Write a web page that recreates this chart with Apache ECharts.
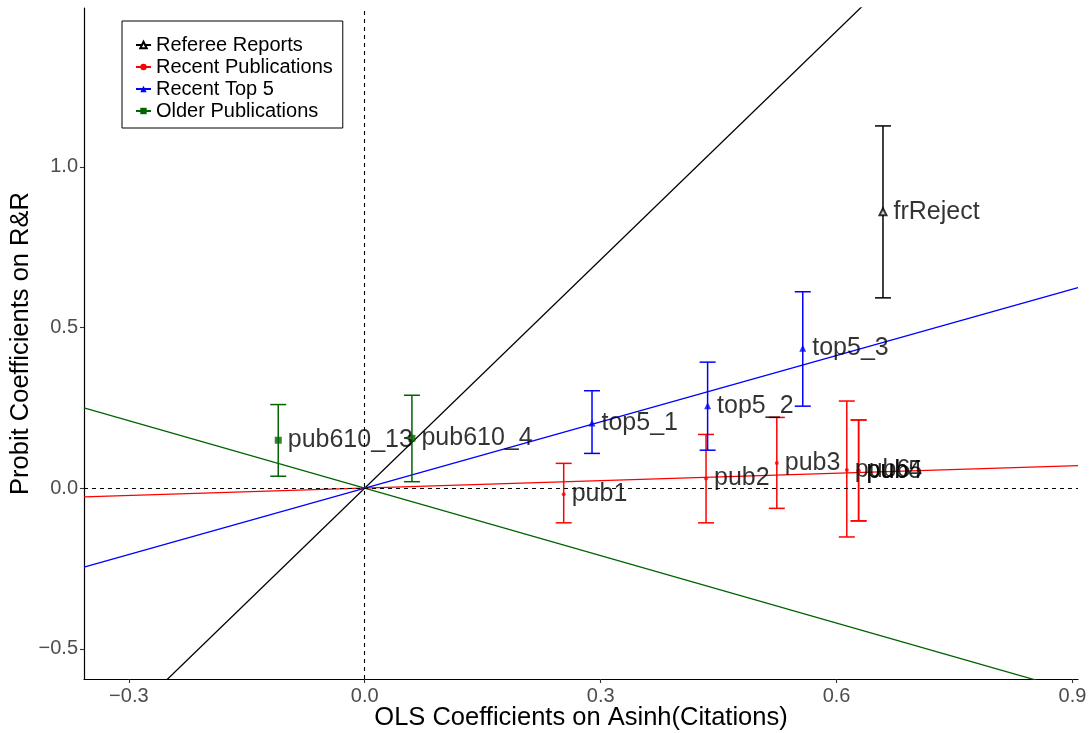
<!DOCTYPE html>
<html>
<head>
<meta charset="utf-8">
<script src="https://cdn.jsdelivr.net/npm/echarts@6/dist/echarts.min.js"></script>
<style>
html,body{margin:0;padding:0;background:#fff;}
#chart{width:1089px;height:733px;}
</style>
</head>
<body>
<div id="chart"></div>
<script>
// ---- data ----
const groupNames = ['Referee Reports', 'Recent Publications', 'Recent Top 5', 'Older Publications'];

const refereeLabels = ['frReject'];
const refereeX = [0.659];
const refereeY = [0.860];
const refereeLo = [0.592];
const refereeHi = [1.127];

const pubLabels = ['pub1', 'pub2', 'pub3', 'pub6', 'pub4', 'pub5'];
const pubX = [0.253, 0.434, 0.524, 0.613, 0.628, 0.628];
const pubY = [-0.019, 0.030, 0.078, 0.056, 0.054, 0.054];
const pubLo = [-0.108, -0.108, -0.063, -0.152, -0.102, -0.102];
const pubHi = [0.077, 0.167, 0.220, 0.271, 0.212, 0.212];

const top5Labels = ['top5_1', 'top5_2', 'top5_3'];
const top5X = [0.289, 0.436, 0.557];
const top5Y = [0.203, 0.256, 0.435];
const top5Lo = [0.108, 0.118, 0.255];
const top5Hi = [0.303, 0.392, 0.611];

const olderLabels = ['pub610_13', 'pub610_4'];
const olderX = [-0.110, 0.060];
const olderY = [0.149, 0.155];
const olderLo = [0.037, 0.020];
const olderHi = [0.260, 0.289];

// slopes of the fitted lines through the origin
const fitSlopes = [2.37, 0.077, 0.688, -0.70];

const xRange = [-0.357, 0.907];
const yRange = [-0.594, 1.494];
const xTicks = [-0.3, 0.0, 0.3, 0.6, 0.9];
const yTicks = [-0.5, 0.0, 0.5, 1.0];

// ---- styling ----
const colors = ['#000000', '#FF0000', '#0000FF', '#006400'];
const symbols = ['emptyTriangle', 'circle', 'triangle', 'rect'];
const symbolSizes = [7, 4, 7, 7];
const FONT = '"Liberation Sans", Arial, Helvetica, sans-serif';

const groups = [
  {labels: refereeLabels, x: refereeX, y: refereeY, lo: refereeLo, hi: refereeHi},
  {labels: pubLabels, x: pubX, y: pubY, lo: pubLo, hi: pubHi},
  {labels: top5Labels, x: top5X, y: top5Y, lo: top5Lo, hi: top5Hi},
  {labels: olderLabels, x: olderX, y: olderY, lo: olderLo, hi: olderHi}
];

function fmt(v) {
  const s = Math.abs(v).toFixed(1);
  return (v < -1e-9 ? '\u2212' : '') + s;
}

const series = [];
// fitted lines (also used for legend)
groups.forEach((g, i) => {
  series.push({
    type: 'line',
    name: groupNames[i],
    data: [[xRange[0], fitSlopes[i] * xRange[0]], [xRange[1], fitSlopes[i] * xRange[1]]],
    showSymbol: false,
    symbol: symbols[i],
    symbolSize: symbolSizes[i],
    clip: true,
    lineStyle: {color: colors[i], width: 1.3},
    itemStyle: {color: colors[i]},
    silent: true,
    z: 2
  });
});
// dashed reference lines
series.push({
  type: 'line',
  data: [],
  silent: true,
  markLine: {
    silent: true,
    symbol: ['none', 'none'],
    label: {show: false},
    lineStyle: {color: '#000', type: [4, 4], width: 1.1},
    data: [{xAxis: 0}, {yAxis: 0}]
  },
  z: 1
});
// error bars
groups.forEach((g, i) => {
  series.push({
    type: 'custom',
    name: groupNames[i],
    data: g.x.map((x, k) => [x, g.lo[k], g.hi[k]]),
    encode: {x: 0, y: [1, 2]},
    silent: true,
    z: 3,
    renderItem: function (params, api) {
      const x = api.value(0);
      const p1 = api.coord([x, api.value(1)]);
      const p2 = api.coord([x, api.value(2)]);
      const hw = 8;
      const st = {stroke: colors[i], lineWidth: 1.5};
      return {
        type: 'group',
        children: [
          {type: 'line', shape: {x1: p1[0], y1: p1[1], x2: p2[0], y2: p2[1]}, style: st},
          {type: 'line', shape: {x1: p1[0] - hw, y1: p1[1], x2: p1[0] + hw, y2: p1[1]}, style: st},
          {type: 'line', shape: {x1: p2[0] - hw, y1: p2[1], x2: p2[0] + hw, y2: p2[1]}, style: st}
        ]
      };
    }
  });
});
// points with labels
groups.forEach((g, i) => {
  series.push({
    type: 'scatter',
    name: groupNames[i],
    data: g.x.map((x, k) => ({name: g.labels[k], value: [x, g.y[k]]})),
    symbol: symbols[i],
    symbolSize: symbolSizes[i],
    itemStyle: {color: colors[i], borderWidth: symbols[i].indexOf('empty') === 0 ? 1 : 0},
    label: {
      show: true,
      position: 'right',
      distance: 6,
      formatter: '{b}',
      color: '#000',
      fontSize: 25,
      fontFamily: FONT
    },
    labelLayout: {hideOverlap: false},
    silent: true,
    z: 4
  });
});

const chart = echarts.init(document.getElementById('chart'), null, {renderer: 'canvas'});
chart.setOption({
  animation: false,
  backgroundColor: '#ffffff',
  textStyle: {fontFamily: FONT},
  grid: {left: 84, right: 11, top: 8, bottom: 54, containLabel: false, outerBoundsMode: 'none'},
  legend: {
    data: groupNames,
    orient: 'vertical',
    left: 122,
    top: 21,
    padding: [14, 10, 7, 13],
    itemWidth: 15,
    itemHeight: 8,
    itemGap: 2,
    borderColor: '#000',
    borderWidth: 1,
    backgroundColor: '#fff',
    selectedMode: false,
    textStyle: {fontSize: 20, lineHeight: 20, color: '#000', fontFamily: FONT}
  },
  xAxis: {
    type: 'value',
    min: xRange[0],
    max: xRange[1],
    splitLine: {show: false},
    axisLine: {show: true, onZero: false, lineStyle: {color: '#000', width: 1.2}},
    axisTick: {show: true, length: 4, customValues: xTicks, lineStyle: {color: '#333', width: 1.1}},
    axisLabel: {customValues: xTicks, formatter: fmt, color: '#4D4D4D', fontSize: 20, margin: 7, fontFamily: FONT},
    name: 'OLS Coefficients on Asinh(Citations)',
    nameLocation: 'middle',
    nameGap: 26,
    nameMoveOverlap: false,
    nameTextStyle: {fontSize: 25.5, color: '#000', fontFamily: FONT}
  },
  yAxis: {
    type: 'value',
    min: yRange[0],
    max: yRange[1],
    splitLine: {show: false},
    axisLine: {show: true, onZero: false, lineStyle: {color: '#000', width: 1.2}},
    axisTick: {show: true, length: 4, customValues: yTicks, lineStyle: {color: '#333', width: 1.1}},
    axisLabel: {customValues: yTicks, formatter: fmt, color: '#4D4D4D', fontSize: 20, margin: 6, fontFamily: FONT},
    name: 'Probit Coefficients on R&R',
    nameLocation: 'middle',
    nameGap: 50,
    nameMoveOverlap: false,
    nameTextStyle: {fontSize: 25.5, color: '#000', fontFamily: FONT}
  },
  series: series
});
</script>
</body>
</html>
